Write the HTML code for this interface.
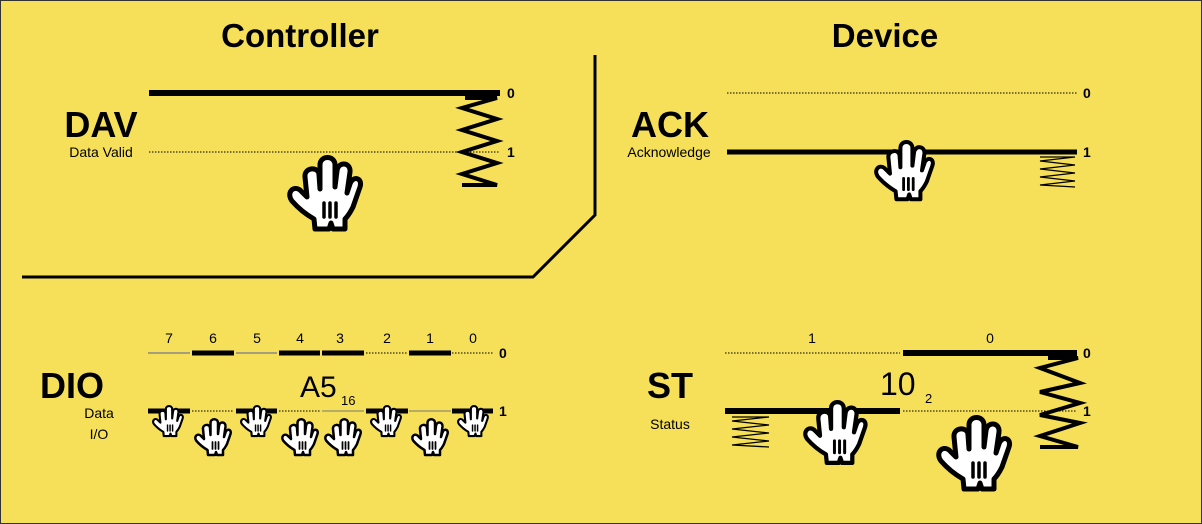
<!DOCTYPE html>
<html><head><meta charset="utf-8"><style>
html,body{margin:0;padding:0;background:#f6e05a}
svg{display:block}
text{font-family:"Liberation Sans",sans-serif;fill:#000}
</style></head><body>
<svg width="1202" height="524" viewBox="0 0 1202 524" xmlns="http://www.w3.org/2000/svg">
<defs>
<g id="hand">
 <path d="M28 74 L27 64 C20 60 12 54 5 46 C-1 38 6 30 13 35 L20 42 L18 22 C17 12 32 11 32 20 L33 34 L33 10 C33 0 48 0 48 10 L48 32 L50 16 C51 6 64 7 63 17 L60 38 L63 29 C66 20 76 23 73 32 L66 52 C63 58 60 62 58 64 L58 74 L46 74 L44 68 L42 74 Z" fill="#fff" stroke="#000" stroke-width="5" stroke-linejoin="round"/>
 <path d="M37 48V62M43 48V62M49 48V62" stroke="#000" stroke-width="3.5" stroke-linecap="round"/>
</g>
</defs>
<rect x="0.5" y="0.5" width="1201" height="523" fill="#f6e05a" stroke="#333"/>
<text x="300" y="47" font-size="33" font-weight="bold" text-anchor="middle">Controller</text>
<text x="885" y="47" font-size="33" font-weight="bold" text-anchor="middle">Device</text>
<path d="M595 55V215L533 277H22" fill="none" stroke="#000" stroke-width="3"/>

<!-- DAV -->
<text x="101" y="137" font-size="36" font-weight="bold" text-anchor="middle">DAV</text>
<text x="101" y="157" font-size="14" text-anchor="middle">Data Valid</text>
<line x1="149" y1="93" x2="500" y2="93" stroke="#000" stroke-width="6"/>
<line x1="149" y1="152" x2="500" y2="152" stroke="#000" stroke-width="1" stroke-dasharray="1.5 1.5"/>
<text x="507" y="98" font-size="14" font-weight="bold">0</text>
<text x="507" y="157" font-size="14" font-weight="bold">1</text>
<polyline points="465,98 497,98 462,108 497,119 462,130 497,141 462,152 497,163 462,174 497,185 462,185" fill="none" stroke="#000" stroke-width="4"/>
<use href="#hand" transform="translate(287,155)"/>

<!-- ACK -->
<text x="670" y="137" font-size="36" font-weight="bold" text-anchor="middle">ACK</text>
<text x="669" y="157" font-size="14" text-anchor="middle">Acknowledge</text>
<line x1="727" y1="93" x2="1077" y2="93" stroke="#000" stroke-width="1" stroke-dasharray="1.5 1.5"/>
<line x1="727" y1="152" x2="1077" y2="152" stroke="#000" stroke-width="5"/>
<text x="1083" y="98" font-size="14" font-weight="bold">0</text>
<text x="1083" y="157" font-size="14" font-weight="bold">1</text>
<polyline points="1040,157 1075,157 1040,161 1075,165 1040,169 1075,173 1040,177 1075,181 1040,185 1075,187" fill="none" stroke="#000" stroke-width="1.3"/>
<use href="#hand" transform="translate(874,140) scale(0.8)"/>

<!-- DIO -->
<text x="72" y="398" font-size="36" font-weight="bold" text-anchor="middle">DIO</text>
<text x="99" y="418" font-size="14" text-anchor="middle">Data</text>
<text x="99" y="439" font-size="14" text-anchor="middle">I/O</text>
<g font-size="14" text-anchor="middle">
<text x="169" y="343">7</text><text x="213" y="343">6</text><text x="257" y="343">5</text><text x="300" y="343">4</text><text x="340" y="343">3</text><text x="387" y="343">2</text><text x="430" y="343">1</text><text x="473" y="343">0</text>
</g>
<g stroke="#000">
<line x1="148" y1="353" x2="190" y2="353" stroke="#888" stroke-width="1.5"/>
<line x1="192" y1="353" x2="234" y2="353" stroke-width="5"/>
<line x1="236" y1="353" x2="277" y2="353" stroke="#888" stroke-width="1.5"/>
<line x1="279" y1="353" x2="320" y2="353" stroke-width="5"/>
<line x1="322" y1="353" x2="364" y2="353" stroke-width="5"/>
<line x1="366" y1="353" x2="408" y2="353" stroke-width="1" stroke-dasharray="1.5 1.5"/>
<line x1="409" y1="353" x2="451" y2="353" stroke-width="5"/>
<line x1="452" y1="353" x2="493" y2="353" stroke-width="1" stroke-dasharray="1.5 1.5"/>
<line x1="148" y1="411" x2="190" y2="411" stroke-width="5"/>
<line x1="192" y1="411" x2="234" y2="411" stroke-width="1" stroke-dasharray="1.5 1.5"/>
<line x1="236" y1="411" x2="277" y2="411" stroke-width="5"/>
<line x1="279" y1="411" x2="320" y2="411" stroke-width="1" stroke-dasharray="1.5 1.5"/>
<line x1="322" y1="411" x2="364" y2="411" stroke="#777" stroke-width="1"/>
<line x1="366" y1="411" x2="408" y2="411" stroke-width="5"/>
<line x1="409" y1="411" x2="451" y2="411" stroke="#777" stroke-width="1"/>
<line x1="452" y1="411" x2="493" y2="411" stroke-width="5"/>
</g>
<text x="499" y="358" font-size="14" font-weight="bold">0</text>
<text x="499" y="416" font-size="14" font-weight="bold">1</text>
<text x="300" y="397" font-size="30">A5</text>
<text x="341" y="405" font-size="13">16</text>
<use href="#hand" transform="translate(152,405) scale(0.42)"/>
<use href="#hand" transform="translate(240,405) scale(0.42)"/>
<use href="#hand" transform="translate(370,405) scale(0.42)"/>
<use href="#hand" transform="translate(457,405) scale(0.42)"/>
<use href="#hand" transform="translate(194,418) scale(0.5)"/>
<use href="#hand" transform="translate(281,418) scale(0.5)"/>
<use href="#hand" transform="translate(324,418) scale(0.5)"/>
<use href="#hand" transform="translate(411,418) scale(0.5)"/>

<!-- ST -->
<text x="670" y="398" font-size="36" font-weight="bold" text-anchor="middle">ST</text>
<text x="670" y="429" font-size="14" text-anchor="middle">Status</text>
<text x="812" y="343" font-size="14" text-anchor="middle">1</text>
<text x="990" y="343" font-size="14" text-anchor="middle">0</text>
<line x1="725" y1="353" x2="900" y2="353" stroke="#000" stroke-width="1" stroke-dasharray="1.5 1.5"/>
<line x1="903" y1="353" x2="1077" y2="353" stroke="#000" stroke-width="6"/>
<line x1="725" y1="411" x2="900" y2="411" stroke="#000" stroke-width="6"/>
<line x1="903" y1="411" x2="1077" y2="411" stroke="#000" stroke-width="1" stroke-dasharray="1.5 1.5"/>
<text x="1083" y="358" font-size="14" font-weight="bold">0</text>
<text x="1083" y="416" font-size="14" font-weight="bold">1</text>
<text x="880" y="395" font-size="32" font-family="Liberation Mono,monospace">10</text>
<text x="925" y="403" font-size="13">2</text>
<polyline points="732,417 769,417 732,421 769,425 732,429 769,433 732,437 769,441 732,445 769,447" fill="none" stroke="#000" stroke-width="1.3"/>
<polyline points="1048,358 1078,358 1040,368 1080,383 1040,392 1080,403 1040,415 1080,423 1040,436 1078,447 1040,447" fill="none" stroke="#000" stroke-width="4"/>
<use href="#hand" transform="translate(803,400) scale(0.85)"/>
<use href="#hand" transform="translate(936,415)"/>
</svg>
</body></html>
